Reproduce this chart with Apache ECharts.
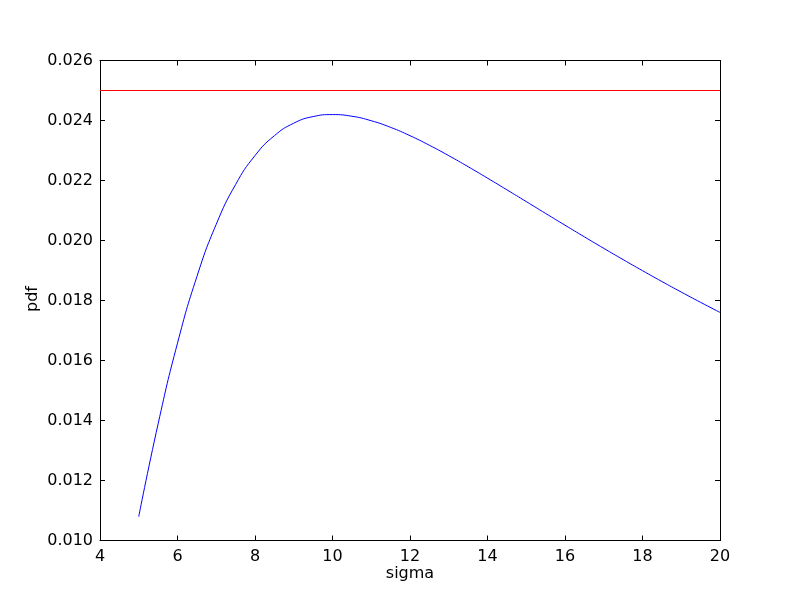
<!DOCTYPE html>
<html><head><meta charset="utf-8">
<script src="https://cdn.jsdelivr.net/npm/echarts@6/dist/echarts.min.js"></script>
<style>html,body{margin:0;padding:0;background:#fff}#c{width:800px;height:600px}</style>
</head><body><div id="c"></div>
<script>
var sigma = [5,5.5,6,6.5,7,7.5,8,8.5,9,9.5,10,10.5,11,11.5,12,12.5,13,13.5,14,14.5,15,15.5,16,16.5,17,17.5,18,18.5,19,19.5,20];
var pdf = [0.010798,0.013890,0.016579,0.018795,0.020542,0.021868,0.022831,0.023493,0.023910,0.024131,0.024197,0.024142,0.023992,0.023771,0.023494,0.023175,0.022828,0.022460,0.022079,0.021690,0.021297,0.020902,0.020510,0.020122,0.019739,0.019363,0.018994,0.018633,0.018281,0.017938,0.017603];
var refX = [4,20];
var refY = [0.025,0.025];
var xTicks = {min:4,max:20,interval:2};
var yTicks = {min:0.010,max:0.026,interval:0.002};

var font = 'DejaVu Sans';
var chart = echarts.init(document.getElementById('c'), null, {renderer:'canvas'});
function axisBase(pos, show){
  return {
    type:'value', position:pos,
    axisLine:{show:true,onZero:false,lineStyle:{color:'#000',width:1}},
    axisTick:{show:true,inside:true,length:5,lineStyle:{color:'#000',width:1}},
    splitLine:{show:false},
    axisLabel:{show:show,color:'#000',fontFamily:font,fontSize:16}
  };
}
var x1 = axisBase('bottom', true); Object.assign(x1, xTicks); x1.axisLabel.margin = 8;
var x2 = axisBase('top', false); Object.assign(x2, xTicks);
var y1 = axisBase('left', true); Object.assign(y1, yTicks); y1.axisLabel.margin = 7;
y1.axisLabel.formatter = function(v){return v.toFixed(3);};
var y2 = axisBase('right', false); Object.assign(y2, yTicks);

chart.setOption({
  animation:false,
  backgroundColor:'#fff',
  grid:{left:100,right:80,top:60.5,bottom:59.5,containLabel:false},
  xAxis:[x1,x2],
  yAxis:[y1,y2],
  graphic:[
    {type:'text',x:410,y:574,style:{text:'sigma',font:'16px "DejaVu Sans"',fill:'#000',align:'center',verticalAlign:'middle'}},
    {type:'text',x:33,y:299,rotation:Math.PI/2,style:{text:'pdf',font:'16px "DejaVu Sans"',fill:'#000',align:'center',verticalAlign:'middle'}}
  ],
  series:[
    {type:'line',xAxisIndex:0,yAxisIndex:0,data:refX.map(function(x,i){return [x,refY[i]];}),
     showSymbol:false,lineStyle:{color:'#ff0000',width:1},silent:true},
    {type:'line',xAxisIndex:0,yAxisIndex:0,data:sigma.map(function(x,i){return [x,pdf[i]];}),
     showSymbol:false,smooth:true,lineStyle:{color:'#0000ff',width:1},silent:true}
  ]
});
</script></body></html>
